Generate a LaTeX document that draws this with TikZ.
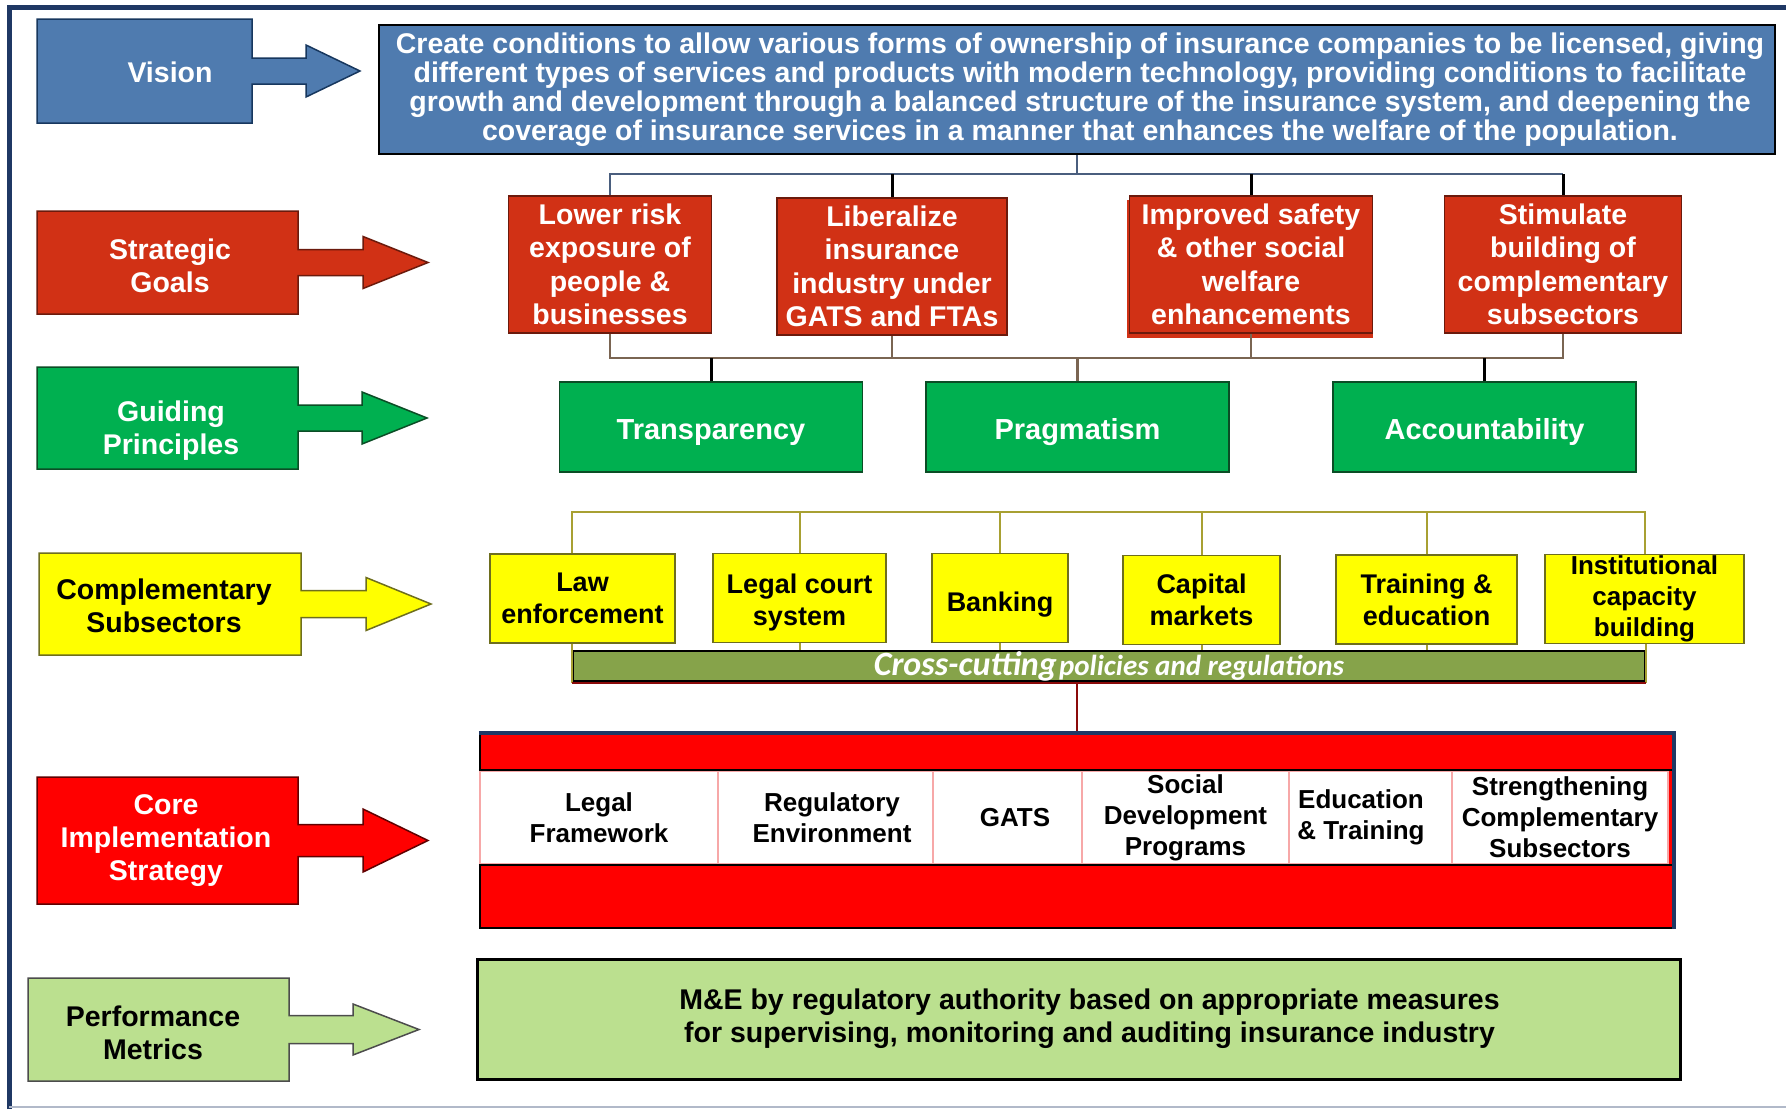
\documentclass[tikz,border=0pt]{standalone}
\usepackage{fontspec}
\setmainfont{Liberation Sans}
\newfontfamily\calib{Carlito}
\definecolor{visblue}{HTML}{4F7BAF}
\definecolor{visline}{HTML}{17375E}
\definecolor{goalred}{HTML}{D13115}
\definecolor{goalline}{HTML}{6B1A0C}
\definecolor{prgreen}{HTML}{00B050}
\definecolor{prline}{HTML}{0B4D25}
\definecolor{subyellow}{HTML}{FFFF00}
\definecolor{subline}{HTML}{6E6E1E}
\definecolor{corered}{HTML}{FF0000}
\definecolor{coreline}{HTML}{600000}
\definecolor{perfgreen}{HTML}{BBE08F}
\definecolor{ccgreen}{HTML}{86A34A}
\definecolor{framec}{HTML}{1F3864}
\definecolor{treeblue}{HTML}{4A5E7E}
\definecolor{treebrown}{HTML}{7A6552}
\definecolor{treeolive}{HTML}{A8A032}
\definecolor{linkred}{HTML}{8B0A0A}
\definecolor{cellpink}{HTML}{F7A8A8}
\tikzset{
  lab/.style={font=\bfseries\fontsize{28.5}{33}\selectfont,align=center,inner sep=0},
  visbox/.style={draw=black,line width=2.5,fill=visblue,text=white,align=center,inner sep=0,
    minimum width=1396,minimum height=129,font=\bfseries\fontsize{28.5}{29}\selectfont},
  goal/.style={draw=goalline,line width=1.5,fill=goalred,text=white,align=center,inner sep=0,
    minimum height=137,font=\bfseries\fontsize{28.5}{33.5}\selectfont},
  principle/.style={draw=prline,line width=1.5,fill=prgreen,text=white,inner sep=0,
    text height=24,text depth=0,minimum width=303,minimum height=90,font=\bfseries\fontsize{29}{33}\selectfont},
  subsector/.style={draw=subline,line width=1.5,fill=subyellow,align=center,inner sep=0,
    minimum height=89,font=\bfseries\fontsize{27}{32}\selectfont},
  cell/.style={draw=cellpink,line width=1.5,fill=white,align=center,inner sep=0,
    minimum height=93,font=\bfseries\fontsize{26}{31}\selectfont},
  vtree/.style={treeblue,line width=2},
  btree/.style={treebrown,line width=2.5},
  ytree/.style={treeolive,line width=2},
  drop/.style={black,line width=3}
}
\newcommand\sidearrow[9]{%
  \pgfmathsetmacro\ymid{(#3+#5)/2}
  \draw[line width=1.5,#1] (#2,#3) -- (#4,#3) -- (#4,\ymid-#8) -- (#6,\ymid-#8) -- (#6,\ymid-#9)
    -- (#7,\ymid) -- (#6,\ymid+#9) -- (#6,\ymid+#8) -- (#4,\ymid+#8) -- (#4,#5) -- (#2,#5) -- cycle;}

\begin{document}
\begin{tikzpicture}[x=1pt,y=-1pt]
\useasboundingbox (0,0) rectangle (1786,1109);
\draw[framec,line width=5] (9,1109) -- (9,7) -- (1786,7);
\draw[framec!35,line width=2] (9,1107) -- (1786,1107);

\sidearrow{draw=visline,fill=visblue}{37}{19}{252}{123}{306}{360}{13}{26}
\node[lab,white] (vision) at (170,72) {Vision};
\sidearrow{draw=goalline,fill=goalred}{37}{211}{298}{314}{363}{428}{13}{26}
\node[lab,white] (goals) at (170,266) {Strategic\\Goals};
\sidearrow{draw=prline,fill=prgreen}{37}{367}{298}{469}{362}{427}{13}{26}
\node[lab,white] (principles) at (171,431) {Guiding\\Principles};
\sidearrow{draw=subline,fill=subyellow}{39}{553}{301}{655}{366}{431}{13.5}{26.5}
\node[lab] (subsectors) at (164,606) {Complementary\\Subsectors};
\sidearrow{draw=coreline,fill=corered}{37}{777}{298}{904}{363}{428}{16}{31.5}
\node[lab,white] (strategy) at (166,841) {Core\\Implementation\\Strategy};
\sidearrow{draw=black!70,fill=perfgreen}{28}{978}{289}{1081}{353}{419}{14}{25.5}
\node[lab] (metricslab) at (153,1033) {Performance\\Metrics};

\node[visbox] (vis) at (1077,89.5) {\hspace*{6pt}Create conditions to allow various forms of ownership of insurance companies to be licensed, giving\\\hspace*{6pt}different types of services and products with modern technology, providing conditions to facilitate\\\hspace*{6pt}growth and development through a balanced structure of the insurance system, and deepening the\\\hspace*{6pt}coverage of insurance services in a manner that enhances the welfare of the population.};

\fill[goalred] (1127,200) rectangle (1373,338);
\node[goal,minimum width=203] (g1) at (610,264.5) {Lower risk\\exposure of\\people \&\\businesses};
\node[goal,minimum width=230] (g2) at (892,266.5) {Liberalize\\insurance\\industry under\\GATS and FTAs};
\node[goal,minimum width=243] (g3) at (1251,264.5) {Improved safety\\\& other social\\welfare\\enhancements};
\node[goal,minimum width=237] (g4) at (1563,264.5) {Stimulate\\building of\\complementary\\subsectors};

\node[principle] (p1) at (711,427) {Transparency};
\node[principle] (p2) at (1077.5,427) {Pragmatism};
\node[principle] (p3) at (1484.5,427) {Accountability};

\coordinate (gb) at (0,174);
\coordinate (pb) at (0,358);
\draw[vtree] (vis.south) -- (vis.south |- gb);
\draw[vtree] (g1.north) -- (g1.north |- gb) -- (g4.north |- gb);
\foreach \n in {g2,g3,g4} \draw[drop] (\n.north) -- (\n.north |- gb);
\draw[btree] (g1.south) -- (g1.south |- pb) -- (g4.south |- pb) -- (g4.south);
\foreach \n in {g2,g3} \draw[btree] (\n.south) -- (\n.south |- pb);
\foreach \n in {p1,p3} \draw[drop] (\n.north) -- (\n.north |- pb);
\draw[btree] (p2.north) -- (p2.north |- pb);

\node[subsector,minimum width=185] (y1) at (582.5,598.5) {Law\\enforcement};
\node[subsector,minimum width=173] (y2) at (799.5,598) {Legal court\\system\\[-36pt]};
\node[subsector,minimum width=136,text height=26,text depth=0] (y3) at (1000,598) {Banking};
\node[subsector,minimum width=157] (y4) at (1201.5,600) {Capital\\markets};
\node[subsector,minimum width=181] (y5) at (1426.5,599.5) {Training \&\\education};
\node[subsector,minimum width=199,font=\bfseries\fontsize{26}{31}\selectfont] (y6) at (1644.5,599) {Institutional\\capacity\\building};

\node[draw=black,line width=2,fill=ccgreen,minimum width=1072,minimum height=24,inner sep=0,text=white] (cc) at (1109,666)
  {\calib\bfseries\itshape{\fontsize{34}{34}\selectfont Cross-cutting} {\fontsize{29}{29}\selectfont policies and regulations}};

\coordinate (yb) at (0,512);
\coordinate (rl) at (0,683);
\draw[ytree] (cc.west |- y1.south) -- (cc.west |- rl);
\draw[ytree] (cc.east |- y6.south) -- (cc.east |- rl);
\draw[ytree] (cc.west |- y1.north) -- (cc.west |- yb) -- (y6.north |- yb) -- (y6.north);
\foreach \n in {y2,y3,y4,y5} {
  \draw[ytree] (\n.north) -- (\n.north |- yb);
  \draw[ytree] (\n.south) -- (\n.south |- cc.north) (\n.south |- cc.south) -- (\n.south |- rl);
}
\draw[linkred,line width=2] (cc.west |- rl) -- (cc.east |- rl);

\node[draw=black,line width=2.5,fill=corered,minimum width=1193,minimum height=194,inner sep=0] (core) at (1076.5,831) {};
\draw[linkred,line width=2] (core.north) -- (core.north |- rl);
\node[cell,minimum width=238] (c1) at (599,817.5) {Legal\\Framework};
\node[cell,minimum width=215] (c2) at (825.5,817.5) {\hspace*{13pt}Regulatory\\\hspace*{13pt}Environment};
\node[cell,minimum width=149] (c3) at (1007.5,817.5) {\hspace*{15pt}GATS};
\node[cell,minimum width=207] (c4) at (1185.5,817.5) {Social\\Development\\Programs};
\node[cell,minimum width=163] (c5) at (1370.5,817.5) {Education\hspace*{19pt}\\\& Training\hspace*{19pt}};
\node[cell,minimum width=216] (c6) at (1560,817.5) {Strengthening\\Complementary\\Subsectors};
\draw[black,line width=2] (core.west |- c1.north) -- (core.east |- c1.north);
\draw[black,line width=2] (core.west |- c1.south) -- (core.east |- c1.south);
\draw[framec,line width=4] (core.north west) -- (core.north east) -- (core.south east);

\node[draw=black,line width=3,fill=perfgreen,minimum width=1203,minimum height=120,inner sep=0,align=center,
  font=\bfseries\fontsize{28.5}{33}\selectfont] (metrics) at (1078.5,1019)
  {\hspace*{22pt}M\&E by regulatory authority based on appropriate measures\\\hspace*{22pt}for supervising, monitoring and auditing insurance industry};
\end{tikzpicture}
\end{document}
